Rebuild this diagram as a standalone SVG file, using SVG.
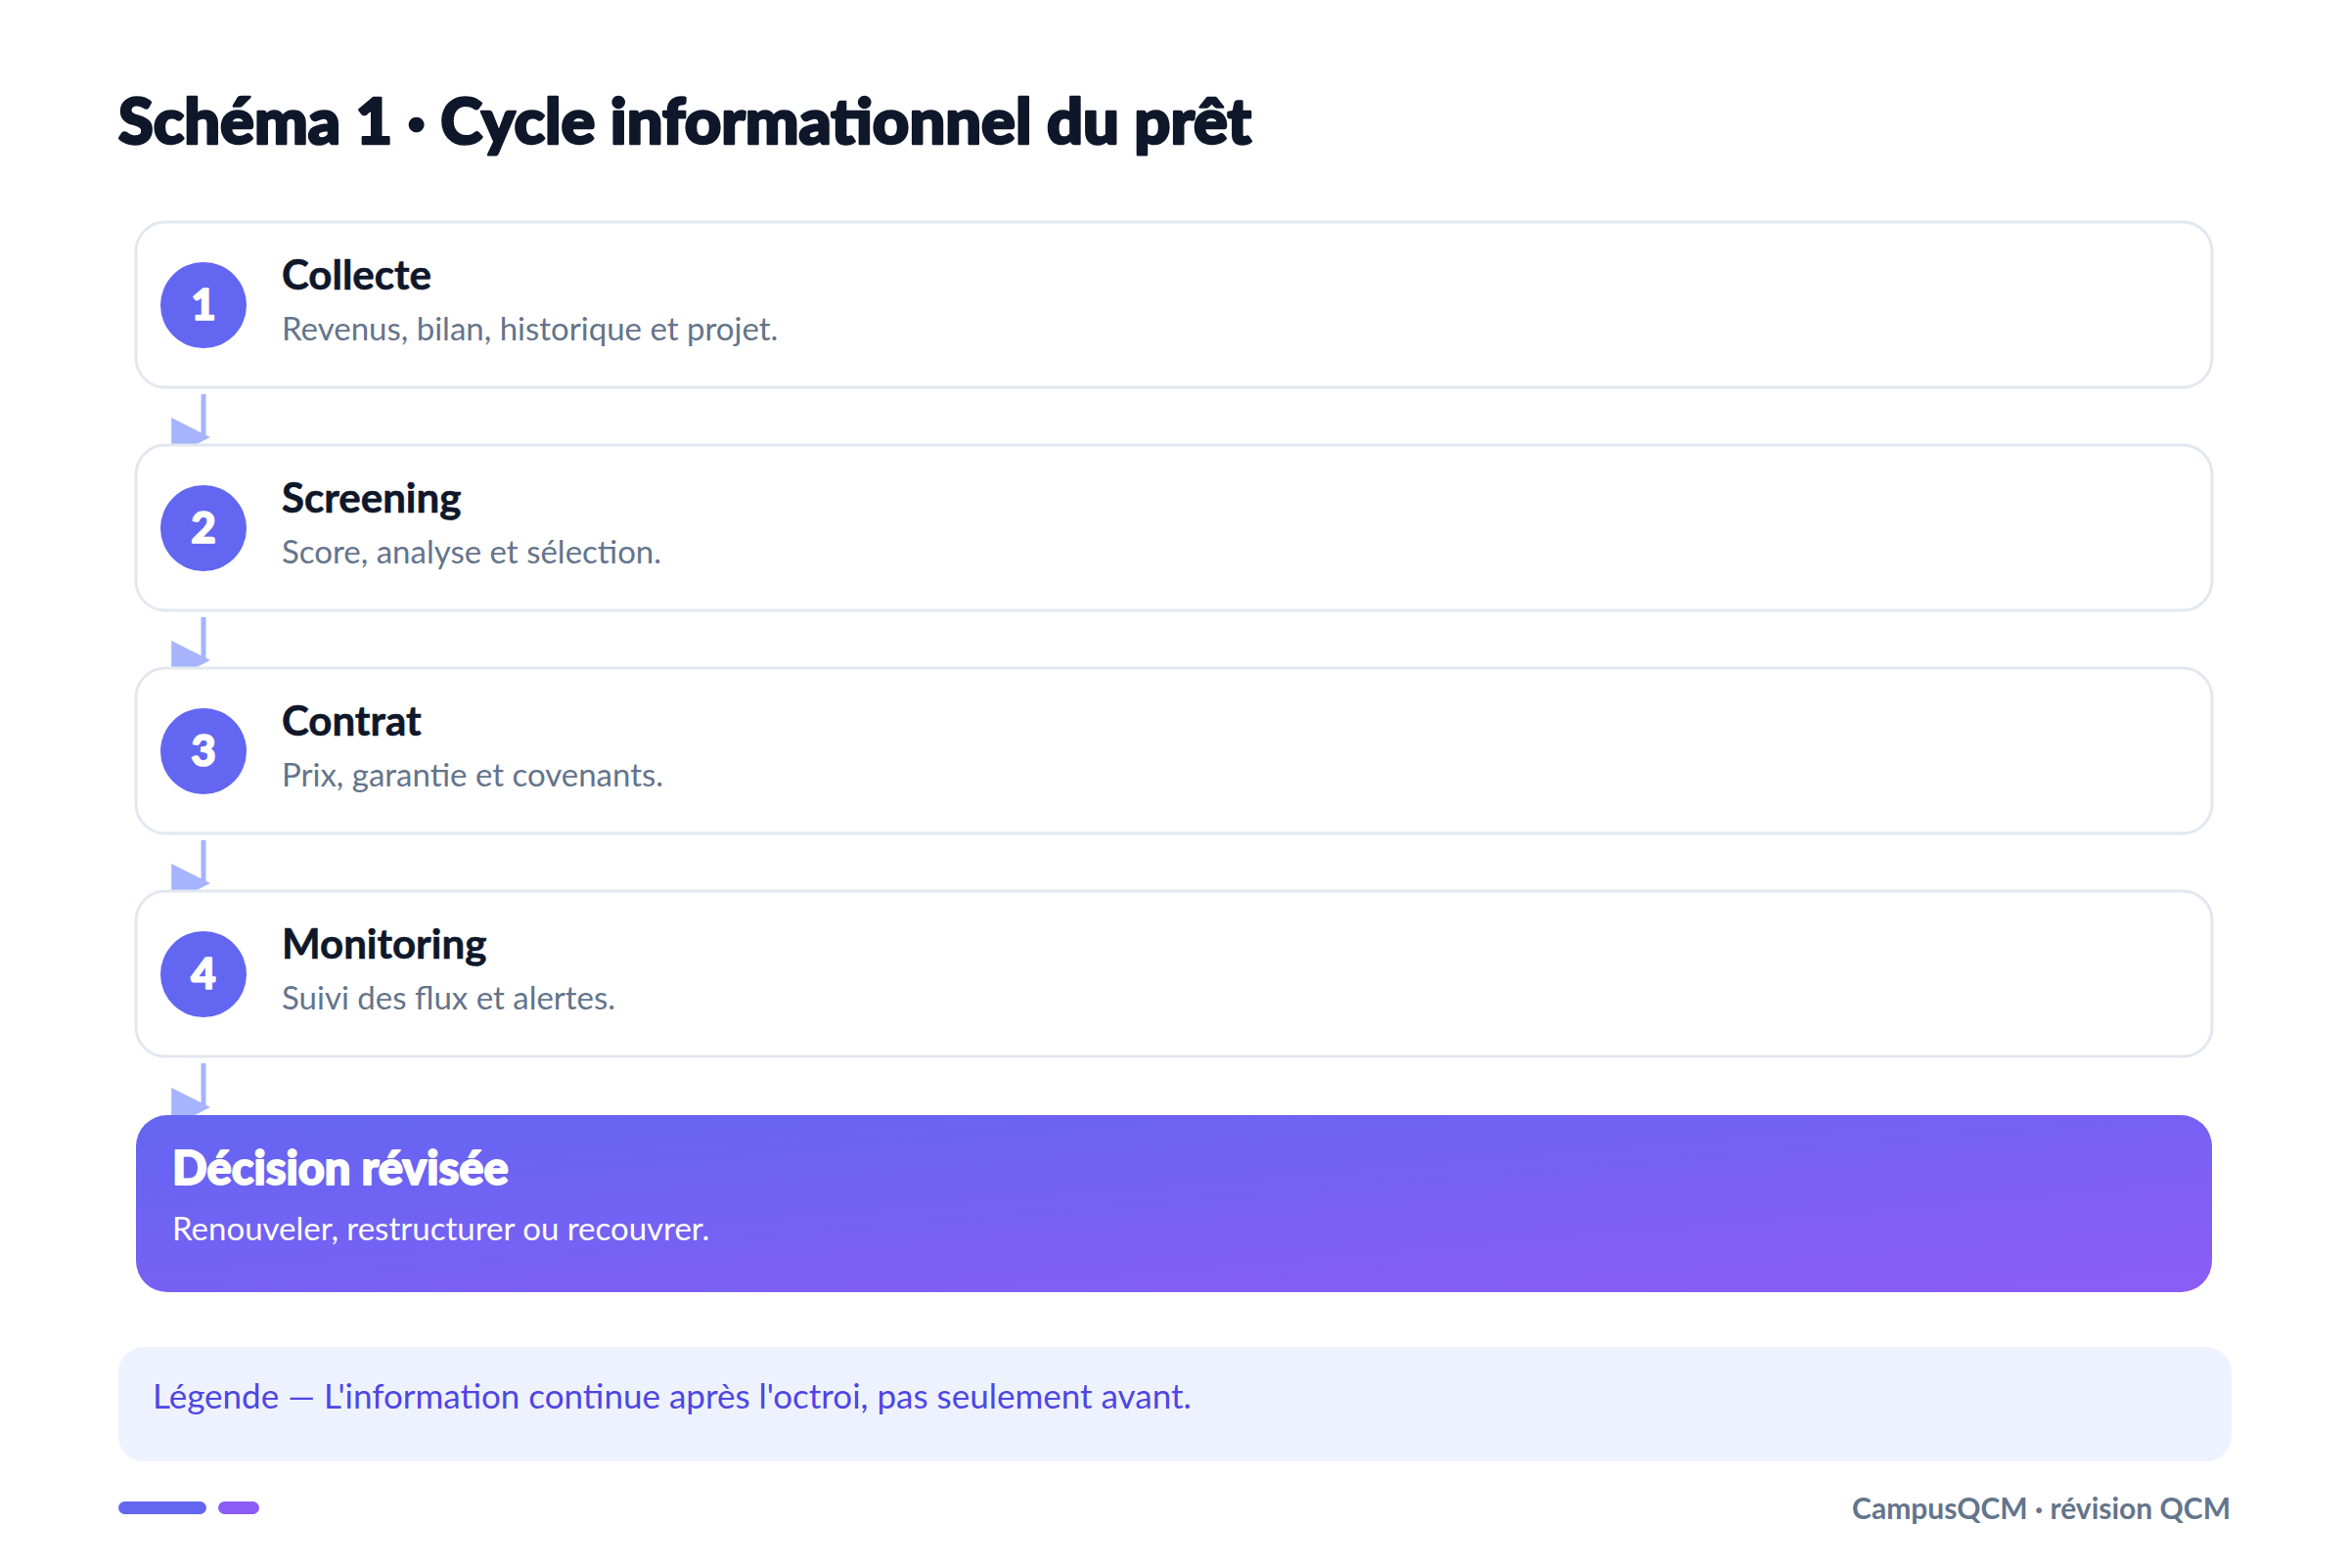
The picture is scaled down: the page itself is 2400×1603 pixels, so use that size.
<svg xmlns="http://www.w3.org/2000/svg" width="2400" height="1603" viewBox="0 0 2400 1603">
  <defs>
    <linearGradient id="decGrad" x1="0" y1="0" x2="1" y2="1">
      <stop offset="0" stop-color="#6366f1"/>
      <stop offset="1" stop-color="#8b5cf6"/>
    </linearGradient>
    <marker id="arrow" viewBox="0 0 10 10" refX="8.2" refY="5" markerWidth="40" markerHeight="40" markerUnits="userSpaceOnUse">
      <path d="M0,0 L10,5 L0,10 z" fill="#a5b4fc"/>
    </marker>
    <style>
      text { font-family: Lato, "Noto Sans", "DejaVu Sans", sans-serif; }
      .heavy { font-family: "Lato Black", "Lato Heavy", Lato, "Noto Sans", sans-serif; }
      .title { font-size: 65px; font-weight: 900; fill: #0f172a; stroke: #0f172a; stroke-width: 2.6; stroke-linejoin: round; }
      .card { fill: #ffffff; stroke: #e2e8f0; stroke-width: 3; }
      .badge { fill: #6366f1; }
      .num { font-size: 44px; font-weight: 900; fill: #ffffff; stroke: #ffffff; stroke-width: 1.6; stroke-linejoin: round; text-anchor: middle; }
      .stitle { font-size: 42px; font-weight: 700; fill: #0f172a; stroke: #0f172a; stroke-width: 0.6; }
      .ssub { font-size: 33px; font-weight: 400; fill: #64748b; }
      .conn { stroke: #a5b4fc; stroke-width: 5; fill: none; }
      .dtitle { font-size: 47px; font-weight: 900; fill: #ffffff; stroke: #ffffff; stroke-width: 1.8; stroke-linejoin: round; }
      .dsub { font-size: 33px; font-weight: 400; fill: #ffffff; }
      .legend { fill: #eef2ff; }
      .ltext { font-size: 35px; font-weight: 400; fill: #4f46e5; }
      .foot { font-size: 30px; font-weight: 700; fill: #64748b; text-anchor: end; }
    </style>
  </defs>
  <rect x="0" y="0" width="2400" height="1603" fill="#ffffff"/>
  <text class="title heavy" x="121" y="147">Schéma 1 · Cycle informationnel du prêt</text>

  <g id="connectors">
    <line class="conn" x1="208" y1="403" x2="208" y2="447" marker-end="url(#arrow)"/>
    <line class="conn" x1="208" y1="631" x2="208" y2="675" marker-end="url(#arrow)"/>
    <line class="conn" x1="208" y1="859" x2="208" y2="903" marker-end="url(#arrow)"/>
    <line class="conn" x1="208" y1="1087" x2="208" y2="1132" marker-end="url(#arrow)"/>
  </g>

  <g id="step1">
    <rect class="card" x="139" y="227" width="2122" height="169" rx="30"/>
    <circle class="badge" cx="208" cy="312" r="44"/>
    <text class="num heavy" x="208" y="327">1</text>
    <text class="stitle" x="288" y="296">Collecte</text>
    <text class="ssub" x="288" y="348">Revenus, bilan, historique et projet.</text>
  </g>
  <g id="step2">
    <rect class="card" x="139" y="455" width="2122" height="169" rx="30"/>
    <circle class="badge" cx="208" cy="540" r="44"/>
    <text class="num heavy" x="208" y="555">2</text>
    <text class="stitle" x="288" y="524">Screening</text>
    <text class="ssub" x="288" y="576">Score, analyse et sélection.</text>
  </g>
  <g id="step3">
    <rect class="card" x="139" y="683" width="2122" height="169" rx="30"/>
    <circle class="badge" cx="208" cy="768" r="44"/>
    <text class="num heavy" x="208" y="783">3</text>
    <text class="stitle" x="288" y="752">Contrat</text>
    <text class="ssub" x="288" y="804">Prix, garantie et covenants.</text>
  </g>
  <g id="step4">
    <rect class="card" x="139" y="911" width="2122" height="169" rx="30"/>
    <circle class="badge" cx="208" cy="996" r="44"/>
    <text class="num heavy" x="208" y="1011">4</text>
    <text class="stitle" x="288" y="980">Monitoring</text>
    <text class="ssub" x="288" y="1032">Suivi des flux et alertes.</text>
  </g>
  <g id="decision">
    <rect x="139" y="1140" width="2122" height="181" rx="32" fill="url(#decGrad)"/>
    <text class="dtitle heavy" x="176" y="1211">Décision révisée</text>
    <text class="dsub" x="176" y="1268">Renouveler, restructurer ou recouvrer.</text>
  </g>
  <g id="legend">
    <rect class="legend" x="121" y="1377" width="2160" height="117" rx="26"/>
    <text class="ltext" x="156" y="1440">Légende — L'information continue après l'octroi, pas seulement avant.</text>
  </g>
  <g id="footer">
    <rect x="121" y="1535" width="90" height="13" rx="6.5" fill="#6366f1"/>
    <rect x="223" y="1535" width="42" height="13" rx="6.5" fill="#8b5cf6"/>
    <text class="foot" x="2280" y="1553">CampusQCM · révision QCM</text>
  </g>
</svg>
